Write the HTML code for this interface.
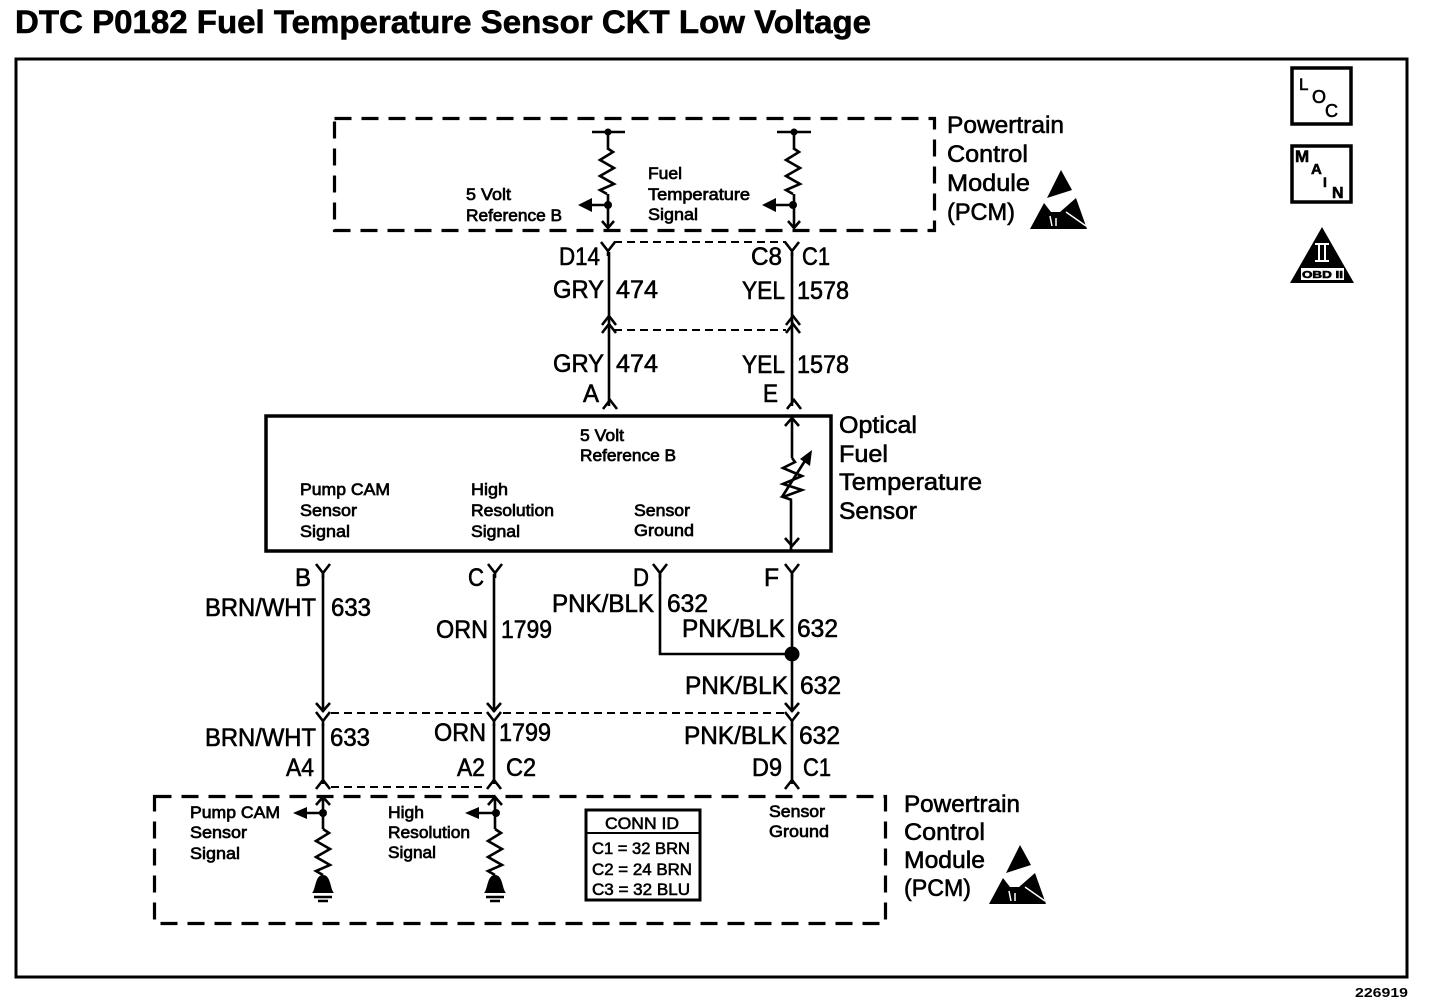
<!DOCTYPE html>
<html><head><meta charset="utf-8"><title>DTC P0182</title>
<style>
html,body{margin:0;padding:0;background:#fff;width:1440px;height:1006px;overflow:hidden}
svg{display:block}
text{font-family:"Liberation Sans",sans-serif;fill:#000;stroke:#000;stroke-width:.6}
.t{font-size:32px;font-weight:bold;stroke-width:.6}
.b{font-size:25px}
.m{font-size:24px}
.s{font-size:17px;stroke-width:.7}
.c{font-size:17px;stroke-width:.6}
.w{fill:none;stroke:#000;stroke-width:2.6}
.d{fill:none;stroke:#000;stroke-width:3.2;stroke-dasharray:17 10}
.e{fill:none;stroke:#000;stroke-width:2;stroke-dasharray:8 5}
.f{fill:#000;stroke:none}
</style></head><body>
<svg width="1440" height="1006" viewBox="0 0 1440 1006" xmlns="http://www.w3.org/2000/svg">
<defs>
<path id="y" class="w" d="M-7 0L0 9L7 0M0 9V14"/>
<path id="n" class="w" d="M-7 9L0 0L7 9"/>
<path id="z" class="w" d="M0 0L6 4L-7 12L7 20L-7 28L7 36L-7 42L0 46"/>
<g id="esd"><polygon class="f" points="1061,170 1072,190 1047,198"/><polygon class="f" points="1030,229 1044,203 1051,212 1060,212 1076,198 1087,229"/><path d="M1066 212L1086 226" stroke="#fff" stroke-width="1.5"/><path d="M1050 216L1052 226M1056 218V226" stroke="#fff" stroke-width="1.5"/></g>
</defs>

<text class="t" x="15" y="33" textLength="856" lengthAdjust="spacingAndGlyphs">DTC P0182 Fuel Temperature Sensor CKT Low Voltage</text>
<rect x="16" y="59" width="1391" height="918" fill="none" stroke="#000" stroke-width="3"/>

<!-- right icons -->
<rect x="1292" y="68" width="59" height="56" fill="none" stroke="#000" stroke-width="3.5"/>
<text class="c" x="1299" y="90" style="font-size:17px">L</text><text class="c" x="1312" y="103" style="font-size:18px">O</text><text class="c" x="1325" y="117" style="font-size:18px">C</text>
<rect x="1292" y="146" width="59" height="56" fill="none" stroke="#000" stroke-width="3.5"/>
<text class="c" x="1295" y="162" style="font-size:17px;font-weight:bold">M</text><text class="c" x="1311" y="174" style="font-size:15px;font-weight:bold">A</text><text class="c" x="1323" y="187" style="font-size:14px;font-weight:bold">I</text><text class="c" x="1332" y="198" style="font-size:16px;font-weight:bold">N</text>
<polygon class="f" points="1322,227 1354,283 1290,283"/>
<rect x="1301" y="268" width="43" height="12" fill="#fff"/>
<text x="1302" y="278" style="font-size:10px;font-weight:bold" textLength="41" lengthAdjust="spacingAndGlyphs">OBD II</text>
<path d="M1315 244H1329M1315 261H1329M1319 244V261M1325 244V261" stroke="#fff" stroke-width="2" fill="none"/>

<!-- top PCM -->
<rect class="d" x="334.5" y="118.5" width="600" height="112"/>
<text class="m" x="947" y="133" textLength="117" lengthAdjust="spacingAndGlyphs">Powertrain</text>
<text class="m" x="947" y="162" textLength="81" lengthAdjust="spacingAndGlyphs">Control</text>
<text class="m" x="947" y="191" textLength="83" lengthAdjust="spacingAndGlyphs">Module</text>
<text class="m" x="947" y="220" textLength="68" lengthAdjust="spacingAndGlyphs">(PCM)</text>
<use href="#esd"/>
<text class="s" x="466" y="200" textLength="45" lengthAdjust="spacingAndGlyphs">5 Volt</text>
<text class="s" x="466" y="221" textLength="96" lengthAdjust="spacingAndGlyphs">Reference B</text>
<text class="s" x="648" y="179" textLength="34" lengthAdjust="spacingAndGlyphs">Fuel</text>
<text class="s" x="648" y="200" textLength="102" lengthAdjust="spacingAndGlyphs">Temperature</text>
<text class="s" x="648" y="220" textLength="50" lengthAdjust="spacingAndGlyphs">Signal</text>

<path class="w" d="M592 132H625M777 132H811M608 132V148M608 194V227M794 132V148M794 194V227M582 205H608M768 205H794"/>
<use href="#z" x="607" y="148"/><use href="#z" x="793" y="148"/>
<circle class="f" cx="608" cy="132" r="3.5"/><circle class="f" cx="794" cy="132" r="3.5"/>
<circle class="f" cx="608" cy="205" r="4"/><circle class="f" cx="793" cy="205" r="4"/>
<polygon class="f" points="578,205 592,198 592,212"/><polygon class="f" points="762,205 776,198 776,212"/>
<path class="w" d="M602 221L608 228L614 221M788 221L794 228L800 221"/>

<!-- upper harness -->
<path class="e" d="M614 242H786M614 330H786"/>
<use href="#y" x="608" y="242"/><use href="#y" x="792" y="242"/>
<path class="w" d="M609 252V406M792 252V406"/>
<use href="#n" x="609" y="316"/><use href="#n" x="609" y="324"/><use href="#n" x="793" y="316"/><use href="#n" x="793" y="324"/>
<use href="#n" x="610" y="400"/><use href="#n" x="794" y="400"/>
<text class="b" x="559" y="265" textLength="41" lengthAdjust="spacingAndGlyphs">D14</text>
<text class="b" x="751" y="265" textLength="31" lengthAdjust="spacingAndGlyphs">C8</text>
<text class="b" x="802" y="265" textLength="28" lengthAdjust="spacingAndGlyphs">C1</text>
<text class="b" x="553" y="298" textLength="51" lengthAdjust="spacingAndGlyphs">GRY</text>
<text class="b" x="616" y="298" textLength="42" lengthAdjust="spacingAndGlyphs">474</text>
<text class="b" x="742" y="299" textLength="43" lengthAdjust="spacingAndGlyphs">YEL</text>
<text class="b" x="797" y="299" textLength="52" lengthAdjust="spacingAndGlyphs">1578</text>
<text class="b" x="553" y="372" textLength="51" lengthAdjust="spacingAndGlyphs">GRY</text>
<text class="b" x="616" y="372" textLength="42" lengthAdjust="spacingAndGlyphs">474</text>
<text class="b" x="742" y="373" textLength="43" lengthAdjust="spacingAndGlyphs">YEL</text>
<text class="b" x="797" y="373" textLength="52" lengthAdjust="spacingAndGlyphs">1578</text>
<text class="b" x="583" y="402" textLength="16" lengthAdjust="spacingAndGlyphs">A</text>
<text class="b" x="763" y="402" textLength="15" lengthAdjust="spacingAndGlyphs">E</text>

<!-- optical sensor -->
<rect x="266" y="416" width="565" height="135" fill="none" stroke="#000" stroke-width="3.5"/>
<text class="m" x="839" y="433" textLength="78" lengthAdjust="spacingAndGlyphs">Optical</text>
<text class="m" x="839" y="462" textLength="49" lengthAdjust="spacingAndGlyphs">Fuel</text>
<text class="m" x="839" y="490" textLength="143" lengthAdjust="spacingAndGlyphs">Temperature</text>
<text class="m" x="839" y="519" textLength="78" lengthAdjust="spacingAndGlyphs">Sensor</text>
<text class="s" x="580" y="441" textLength="44" lengthAdjust="spacingAndGlyphs">5 Volt</text>
<text class="s" x="580" y="461" textLength="96" lengthAdjust="spacingAndGlyphs">Reference B</text>
<text class="s" x="300" y="495" textLength="90" lengthAdjust="spacingAndGlyphs">Pump CAM</text>
<text class="s" x="300" y="516" textLength="57" lengthAdjust="spacingAndGlyphs">Sensor</text>
<text class="s" x="300" y="537" textLength="50" lengthAdjust="spacingAndGlyphs">Signal</text>
<text class="s" x="471" y="495" textLength="37" lengthAdjust="spacingAndGlyphs">High</text>
<text class="s" x="471" y="516" textLength="83" lengthAdjust="spacingAndGlyphs">Resolution</text>
<text class="s" x="471" y="537" textLength="49" lengthAdjust="spacingAndGlyphs">Signal</text>
<text class="s" x="634" y="516" textLength="56" lengthAdjust="spacingAndGlyphs">Sensor</text>
<text class="s" x="634" y="536" textLength="60" lengthAdjust="spacingAndGlyphs">Ground</text>
<path class="w" d="M792 418V458M791 500V550M785 426L792 418L799 426M785 538L792 546L799 538"/>
<path class="w" d="M792 458L795 462L783 468L802 476L783 484L802 490L783 497L792 500"/>
<path class="w" d="M782 497L808 456"/><polygon class="f" points="812,450 810,466 800,459"/>

<!-- lower harness -->
<use href="#y" x="323" y="564"/><use href="#y" x="495" y="564"/><use href="#y" x="660" y="564"/><use href="#y" x="792" y="564"/>
<path class="w" d="M323 574V712M494 574V712M792 574V712M660 574V654H792"/>
<circle class="f" cx="792" cy="654" r="7.5"/>
<path class="w" d="M316 703L323 711L330 703M487 703L494 711L501 703M785 703L792 711L799 703"/>
<path class="e" d="M331 713H486M503 713H784M331 787H486"/>
<use href="#y" x="323" y="712"/><use href="#y" x="494" y="712"/><use href="#y" x="792" y="712"/>
<path class="w" d="M323 724V784M494 724V784M792 724V784"/>
<use href="#n" x="323" y="780"/><use href="#n" x="494" y="780"/><use href="#n" x="792" y="780"/>

<text class="b" x="295" y="586" textLength="16" lengthAdjust="spacingAndGlyphs">B</text>
<text class="b" x="468" y="586" textLength="16" lengthAdjust="spacingAndGlyphs">C</text>
<text class="b" x="633" y="586" textLength="16" lengthAdjust="spacingAndGlyphs">D</text>
<text class="b" x="764" y="586" textLength="15" lengthAdjust="spacingAndGlyphs">F</text>
<text class="b" x="205" y="616" textLength="111" lengthAdjust="spacingAndGlyphs">BRN/WHT</text>
<text class="b" x="331" y="616" textLength="40" lengthAdjust="spacingAndGlyphs">633</text>
<text class="b" x="436" y="638" textLength="52" lengthAdjust="spacingAndGlyphs">ORN</text>
<text class="b" x="501" y="638" textLength="51" lengthAdjust="spacingAndGlyphs">1799</text>
<text class="b" x="552" y="612" textLength="102" lengthAdjust="spacingAndGlyphs">PNK/BLK</text>
<text class="b" x="667" y="612" textLength="41" lengthAdjust="spacingAndGlyphs">632</text>
<text class="b" x="682" y="637" textLength="103" lengthAdjust="spacingAndGlyphs">PNK/BLK</text>
<text class="b" x="797" y="637" textLength="41" lengthAdjust="spacingAndGlyphs">632</text>
<text class="b" x="685" y="694" textLength="103" lengthAdjust="spacingAndGlyphs">PNK/BLK</text>
<text class="b" x="800" y="694" textLength="41" lengthAdjust="spacingAndGlyphs">632</text>
<text class="b" x="205" y="746" textLength="111" lengthAdjust="spacingAndGlyphs">BRN/WHT</text>
<text class="b" x="330" y="746" textLength="40" lengthAdjust="spacingAndGlyphs">633</text>
<text class="b" x="434" y="741" textLength="52" lengthAdjust="spacingAndGlyphs">ORN</text>
<text class="b" x="499" y="741" textLength="52" lengthAdjust="spacingAndGlyphs">1799</text>
<text class="b" x="684" y="744" textLength="103" lengthAdjust="spacingAndGlyphs">PNK/BLK</text>
<text class="b" x="799" y="744" textLength="41" lengthAdjust="spacingAndGlyphs">632</text>
<text class="b" x="286" y="776" textLength="28" lengthAdjust="spacingAndGlyphs">A4</text>
<text class="b" x="457" y="776" textLength="28" lengthAdjust="spacingAndGlyphs">A2</text>
<text class="b" x="506" y="776" textLength="30" lengthAdjust="spacingAndGlyphs">C2</text>
<text class="b" x="752" y="776" textLength="30" lengthAdjust="spacingAndGlyphs">D9</text>
<text class="b" x="803" y="776" textLength="28" lengthAdjust="spacingAndGlyphs">C1</text>

<!-- bottom PCM -->
<rect class="d" x="154.5" y="796.5" width="731" height="127"/>
<text class="m" x="904" y="812" textLength="116" lengthAdjust="spacingAndGlyphs">Powertrain</text>
<text class="m" x="904" y="840" textLength="81" lengthAdjust="spacingAndGlyphs">Control</text>
<text class="m" x="904" y="868" textLength="81" lengthAdjust="spacingAndGlyphs">Module</text>
<text class="m" x="904" y="896" textLength="67" lengthAdjust="spacingAndGlyphs">(PCM)</text>
<use href="#esd" x="-41" y="675"/>
<text class="s" x="190" y="818" textLength="90" lengthAdjust="spacingAndGlyphs">Pump CAM</text>
<text class="s" x="190" y="838" textLength="57" lengthAdjust="spacingAndGlyphs">Sensor</text>
<text class="s" x="190" y="859" textLength="50" lengthAdjust="spacingAndGlyphs">Signal</text>
<text class="s" x="388" y="818" textLength="36" lengthAdjust="spacingAndGlyphs">High</text>
<text class="s" x="388" y="838" textLength="82" lengthAdjust="spacingAndGlyphs">Resolution</text>
<text class="s" x="388" y="858" textLength="48" lengthAdjust="spacingAndGlyphs">Signal</text>
<text class="s" x="769" y="817" textLength="56" lengthAdjust="spacingAndGlyphs">Sensor</text>
<text class="s" x="769" y="837" textLength="60" lengthAdjust="spacingAndGlyphs">Ground</text>

<path class="w" d="M323 796V829M495 796V829M300 813H323M472 813H495M316 805L323 797L330 805M488 805L495 797L502 805"/>
<polygon class="f" points="293,813 307,807 307,819"/><polygon class="f" points="465,813 479,807 479,819"/>
<circle class="f" cx="323" cy="813" r="4"/><circle class="f" cx="496" cy="813" r="4"/>
<use href="#z" x="323" y="829"/><use href="#z" x="495" y="829"/>
<g id="gnd"><path class="f" d="M312 893C316 889 315 875 323 875C331 875 330 889 334 893Z"/><path class="w" d="M314 897H332M318 901H328"/></g>
<use href="#gnd" x="172"/>

<rect x="586" y="810" width="114" height="90" fill="none" stroke="#000" stroke-width="3"/>
<path d="M586 833H700" stroke="#000" stroke-width="2"/>
<text class="c" x="605" y="829" textLength="74" lengthAdjust="spacingAndGlyphs">CONN ID</text>
<text class="c" x="592" y="854" textLength="98" lengthAdjust="spacingAndGlyphs">C1 = 32 BRN</text>
<text class="c" x="592" y="875" textLength="100" lengthAdjust="spacingAndGlyphs">C2 = 24 BRN</text>
<text class="c" x="592" y="895" textLength="98" lengthAdjust="spacingAndGlyphs">C3 = 32 BLU</text>

<text x="1355" y="997" style="font-size:13px;font-weight:bold;stroke-width:0" textLength="53" lengthAdjust="spacingAndGlyphs">226919</text>
</svg>
</body></html>
